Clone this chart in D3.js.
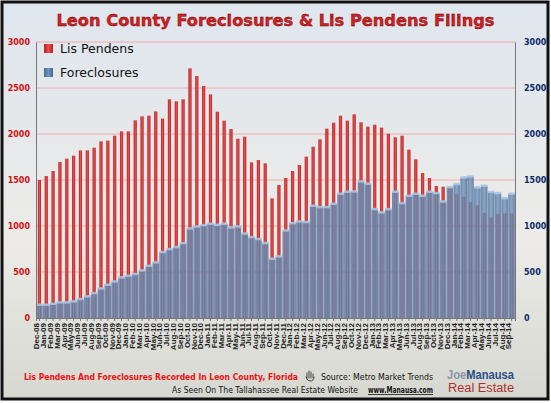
<!DOCTYPE html>
<html><head><meta charset="utf-8">
<script src="https://cdn.jsdelivr.net/npm/d3@7"></script>
<style>body{margin:0;background:#fff}svg{display:block}</style>
</head><body>
<script>
const months = ["Dec-08","Jan-09","Feb-09","Mar-09","Apr-09","May-09","Jun-09","Jul-09","Aug-09","Sep-09","Oct-09","Nov-09","Dec-09","Jan-10","Feb-10","Mar-10","Apr-10","May-10","Jun-10","Jul-10","Aug-10","Sep-10","Oct-10","Nov-10","Dec-10","Jan-11","Feb-11","Mar-11","Apr-11","May-11","Jun-11","Jul-11","Aug-11","Sep-11","Oct-11","Nov-11","Dec-11","Jan-12","Feb-12","Mar-12","Apr-12","May-12","Jun-12","Jul-12","Aug-12","Sep-12","Oct-12","Nov-12","Dec-12","Jan-13","Feb-13","Mar-13","Apr-13","May-13","Jun-13","Jul-13","Aug-13","Sep-13","Oct-13","Nov-13","Dec-13","Jan-14","Feb-14","Mar-14","Apr-14","May-14","Jun-14","Jul-14","Aug-14","Sep-14"];
const lisPendens = [1500,1543,1598,1696,1732,1764,1822,1822,1851,1920,1928,1982,2029,2029,2149,2192,2199,2246,2167,2377,2355,2377,2714,2630,2522,2431,2243,2145,2054,1949,1971,1692,1717,1681,1301,1446,1522,1598,1663,1754,1862,1942,2058,2123,2199,2145,2214,2127,2080,2101,2069,2003,1964,1982,1830,1725,1576,1522,1435,1427,1420,1348,1319,1261,1225,1141,1094,1130,1137,1137];
const foreclosures = [141,141,152,167,167,178,203,232,268,319,359,395,439,457,475,515,565,602,714,746,768,812,971,993,1007,1022,1011,1022,982,993,916,877,855,812,641,667,949,1029,1047,1040,1217,1203,1203,1239,1348,1370,1373,1482,1457,1181,1145,1181,1370,1246,1326,1348,1326,1370,1355,1264,1420,1453,1525,1536,1417,1435,1367,1355,1300,1348];
const yTicks = [0,500,1000,1500,2000,2500,3000];

const W=551,H=403;
const svg=d3.select("body").append("svg").attr("width",W).attr("height",H);
const defs=svg.append("defs");
const bg=defs.append("linearGradient").attr("id","bg").attr("x1",0).attr("y1",0).attr("x2",0).attr("y2",1);
bg.append("stop").attr("offset","0").attr("stop-color","#dfe6ee");
bg.append("stop").attr("offset","0.6").attr("stop-color","#ecebe8");
bg.append("stop").attr("offset","1").attr("stop-color","#d6d8d0");
const bl=defs.append("linearGradient").attr("id","bl").attr("x1",0).attr("y1",0).attr("x2",1).attr("y2",0);
bl.append("stop").attr("offset","0").attr("stop-color","#4a6e98");
bl.append("stop").attr("offset","0.5").attr("stop-color","#6f93bd");
bl.append("stop").attr("offset","1").attr("stop-color","#46688f");
const rd=defs.append("linearGradient").attr("id","rd").attr("x1",0).attr("y1",0).attr("x2",1).attr("y2",0);
rd.append("stop").attr("offset","0").attr("stop-color","#b82020");
rd.append("stop").attr("offset","0.5").attr("stop-color","#e65050");
rd.append("stop").attr("offset","1").attr("stop-color","#b82020");

svg.append("rect").attr("x",0).attr("y",0).attr("width",W).attr("height",H).attr("fill","#fff");
svg.append("rect").attr("x",2).attr("y",2).attr("width",W-5).attr("height",H-6).attr("fill","url(#bg)").attr("stroke","#111").attr("stroke-width",3);

const L=36,R=515,T=42,B=318;
const x=d3.scaleBand().domain(months).range([L,R]).paddingInner(0.04).paddingOuter(0.02);
const y=d3.scaleLinear().domain([0,3000]).range([B,T]);

svg.append("g").selectAll("line").data(yTicks.slice(1)).join("line")
 .attr("x1",L).attr("x2",R).attr("y1",d=>y(d)).attr("y2",d=>y(d))
 .attr("stroke","#f0a0a0").attr("stroke-width",0.8);

const bw=x.bandwidth();
svg.append("g").selectAll("rect").data(lisPendens).join("rect")
 .attr("x",(d,i)=>x(months[i])+bw/2-1.6).attr("width",3.2)
 .attr("y",d=>y(d)).attr("height",d=>B-y(d)).attr("fill","url(#rd)");
svg.append("g").selectAll("rect").data(foreclosures).join("rect")
 .attr("x",(d,i)=>x(months[i])).attr("width",bw)
 .attr("y",d=>y(d)).attr("height",d=>B-y(d)).attr("fill","url(#bl)").attr("opacity",0.78);
svg.append("g").selectAll("rect").data(foreclosures).join("rect")
 .attr("x",(d,i)=>x(months[i])).attr("width",bw)
 .attr("y",d=>y(d)-1.5).attr("height",2.5).attr("fill","#a9c4e2").attr("opacity",0.9);

const ax=svg.append("g").attr("transform",`translate(0,${B})`).call(d3.axisBottom(x).tickSize(3));
ax.select(".domain").attr("stroke","#777");
ax.selectAll("line").attr("stroke","#777");
ax.selectAll("text").attr("transform","rotate(-90)").attr("x",-5).attr("y",-3).attr("dy","0.35em")
 .style("text-anchor","end").attr("font-family","Arial, Liberation Sans").attr("font-size",8).attr("font-weight","bold").attr("fill","#222");

const fmt=d3.format("d");
const ay=svg.append("g").attr("transform",`translate(${L},0)`).call(d3.axisLeft(y).tickValues(yTicks).tickFormat(fmt).tickSize(0).tickPadding(6));
ay.select(".domain").attr("stroke","#777");
ay.selectAll("text").attr("font-family","Verdana, DejaVu Sans").attr("font-size",8).attr("font-weight","bold").attr("fill","#d01010");
const ay2=svg.append("g").attr("transform",`translate(${R},0)`).call(d3.axisRight(y).tickValues(yTicks).tickFormat(fmt).tickSize(0).tickPadding(9));
ay2.select(".domain").attr("stroke","#777");
ay2.selectAll("text").attr("font-family","Verdana, DejaVu Sans").attr("font-size",8).attr("font-weight","bold").attr("fill","#0b2a6a");

svg.append("text").attr("x",W/2).attr("y",26).attr("text-anchor","middle")
 .attr("font-family","Verdana, DejaVu Sans").attr("font-weight","bold").attr("font-size",16.5)
 .attr("textLength",438).attr("lengthAdjust","spacingAndGlyphs")
 .attr("fill","#d42020").attr("stroke","#600").attr("stroke-width",0.4)
 .text("Leon County Foreclosures & Lis Pendens Filings");

const lg=[["Lis Pendens","url(#rd)"],["Foreclosures","url(#bl)"]];
lg.forEach((l,i)=>{
 svg.append("rect").attr("x",44).attr("y",44+i*24).attr("width",9).attr("height",9).attr("fill",l[1]);
 svg.append("text").attr("x",60).attr("y",53+i*24).attr("font-family","Verdana, DejaVu Sans").attr("font-size",12.5).attr("fill","#111").text(l[0]);
});

svg.append("text").attr("x",24).attr("y",380).attr("font-family","Verdana, DejaVu Sans").attr("font-weight","bold").attr("font-size",8.5).attr("fill","#ee1111")
 .attr("textLength",274).attr("lengthAdjust","spacingAndGlyphs")
 .text("Lis Pendens And Foreclosures Recorded In Leon County, Florida");
// small hand icon
svg.append("path").attr("d","M307,378 l0,-5 m2,5 l0,-7 m2,7 l0,-6 m2,6 l0,-4 M306,377 q1,4 4,4 q4,0 4,-4")
 .attr("fill","none").attr("stroke","#333").attr("stroke-width",0.9).attr("stroke-linecap","round");
svg.append("text").attr("x",321).attr("y",380).attr("font-family","Verdana, DejaVu Sans").attr("font-size",8)
 .attr("textLength",112).attr("lengthAdjust","spacingAndGlyphs").attr("fill","#111").text("Source: Metro Market Trends");
svg.append("text").attr("x",172).attr("y",393).attr("font-family","Verdana, DejaVu Sans").attr("font-size",8).attr("fill","#111")
 .attr("textLength",186).attr("lengthAdjust","spacingAndGlyphs")
 .text("As Seen On The Tallahassee Real Estate Website");
svg.append("text").attr("x",368).attr("y",393).attr("font-family","Verdana, DejaVu Sans").attr("font-size",8).attr("font-weight","bold")
 .attr("textLength",65).attr("lengthAdjust","spacingAndGlyphs")
 .attr("text-decoration","underline").attr("fill","#111").text("www.Manausa.com");
svg.append("text").attr("x",447).attr("y",379).attr("font-family","Arial, Liberation Sans").attr("font-size",12).attr("font-weight","bold").attr("fill","#8a96a8")
 .attr("textLength",67).attr("lengthAdjust","spacingAndGlyphs").text("Joe").append("tspan").attr("fill","#2a4f8a").text("Manausa");
svg.append("text").attr("x",448).attr("y",392).attr("font-family","Arial, Liberation Sans").attr("font-size",12)
 .attr("textLength",66).attr("lengthAdjust","spacingAndGlyphs").attr("fill","#b03030").text("Real Estate");
</script>
</body></html>
